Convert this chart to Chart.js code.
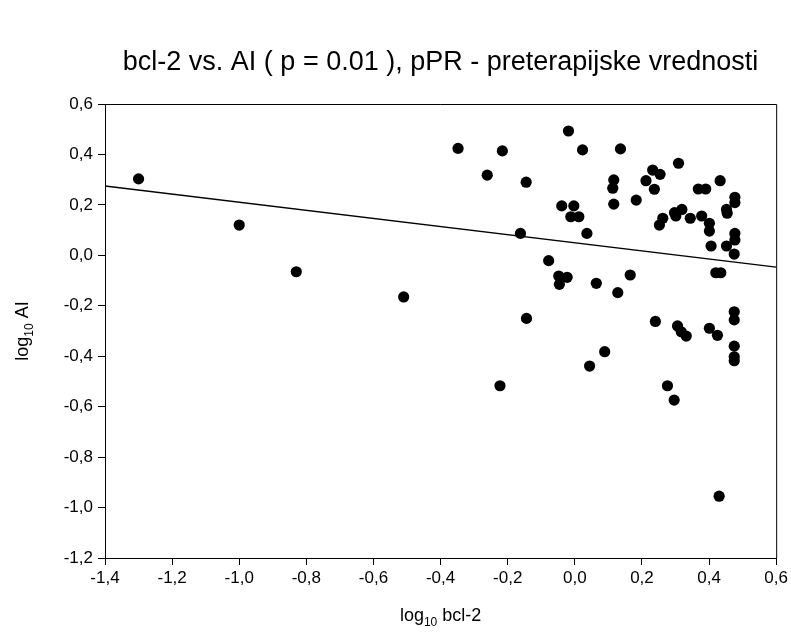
<!DOCTYPE html>
<html>
<head>
<meta charset="utf-8">
<script src="https://cdn.jsdelivr.net/npm/chart.js@4/dist/chart.umd.min.js"></script>
<style>
  html, body { margin: 0; padding: 0; background: #fff; }
  #wrap { width: 791px; height: 635px; }
</style>
</head>
<body>
<div id="wrap"><canvas id="scatter_chart" width="791" height="635"></canvas></div>
<script>
// log10 bcl-2 (x) and log10 AI (y)
const bcl2_vals = [
  -1.30, -1.00, -0.83, -0.51, -0.348, -0.216, -0.019, 0.023, 0.136, -0.261,
  -0.145, 0.116, 0.113, 0.116, -0.039, -0.003, -0.012, 0.012, -0.162, 0.036,
  -0.078, -0.048, -0.023, -0.046, 0.064, 0.128, -0.144, 0.089, 0.044, -0.223,
  0.183, 0.232, 0.254, 0.212, 0.237, 0.309, 0.252, 0.262, 0.297, 0.319,
  0.301, 0.344, 0.378, 0.368, 0.390, 0.433, 0.401, 0.401, 0.406, 0.452,
  0.454, 0.477, 0.477, 0.477, 0.477, 0.452, 0.475, 0.165, 0.420, 0.435,
  0.240, 0.306, 0.317, 0.332, 0.401, 0.425, 0.475, 0.475, 0.475, 0.475,
  0.475, 0.276, 0.296, 0.430
];
const ai_vals = [
  0.303, 0.120, -0.065, -0.165, 0.424, 0.414, 0.493, 0.418, 0.422, 0.318,
  0.290, 0.299, 0.266, 0.203, 0.196, 0.196, 0.153, 0.153, 0.087, 0.087,
  -0.021, -0.082, -0.087, -0.115, -0.111, -0.148, -0.250, -0.382, -0.439, -0.517,
  0.219, 0.338, 0.321, 0.296, 0.262, 0.365, 0.120, 0.147, 0.169, 0.182,
  0.156, 0.147, 0.156, 0.263, 0.263, 0.296, 0.127, 0.096, 0.037, 0.182,
  0.167, 0.230, 0.209, 0.087, 0.061, 0.037, 0.005, -0.078, -0.069, -0.069,
  -0.262, -0.280, -0.303, -0.320, -0.289, -0.317, -0.224, -0.256, -0.360, -0.402,
  -0.418, -0.517, -0.574, -0.955
];

// regression line end points
const fit_x = [-1.4, 0.6];
const fit_y = [0.275, -0.047];

const x_range = [-1.4, 0.6];
const y_range = [-1.2, 0.6];

const chart_title = "bcl-2 vs. AI ( p = 0.01 ), pPR - preterapijske vrednosti";

const FONT = "'Liberation Sans', Arial, sans-serif";

function comma_fmt(v) {
  let s = (Math.abs(v) < 1e-9 ? 0 : v).toFixed(1);
  return s.replace('.', ',');
}

// draws frame, title and axis titles (with subscripts)
const extras = {
  id: 'extras',
  afterDraw(chart) {
    const c = chart.ctx;
    const a = chart.chartArea;
    c.save();
    c.strokeStyle = '#000';
    c.lineWidth = 1;
    c.beginPath();
    c.moveTo(a.left, a.top + 0.5);
    c.lineTo(a.right + 0.5, a.top + 0.5);
    c.lineTo(a.right + 0.5, a.bottom);
    c.stroke();

    c.fillStyle = '#000';
    c.textBaseline = 'middle';
    c.textAlign = 'center';
    c.font = '27px ' + FONT;
    c.fillText(chart_title, (a.left + a.right) / 2, 63);

    function sub_label(parts, cx, cy) {
      let w = 0;
      parts.forEach(p => { c.font = p.size + 'px ' + FONT; w += c.measureText(p.t).width; });
      let x = cx - w / 2;
      c.textAlign = 'left';
      parts.forEach(p => {
        c.font = p.size + 'px ' + FONT;
        c.fillText(p.t, x, cy + p.dy);
        x += c.measureText(p.t).width;
      });
    }
    // x title: log10 bcl-2
    sub_label([{t: 'log', size: 18, dy: 0}, {t: '10', size: 12, dy: 7}, {t: ' bcl-2', size: 18, dy: 0}],
      (a.left + a.right) / 2, 616);

    c.save();
    c.translate(23, (a.top + a.bottom) / 2);
    c.rotate(-Math.PI / 2);
    sub_label([{t: 'log', size: 18, dy: 0}, {t: '10', size: 12, dy: 7}, {t: ' AI', size: 18, dy: 0}], 0, 0);
    c.restore();
    c.restore();
  }
};

const scatter_points = bcl2_vals.map((x, i) => ({x: x, y: ai_vals[i]}));
const fit_points = fit_x.map((x, i) => ({x: x, y: fit_y[i]}));

var ctx = document.getElementById('scatter_chart').getContext('2d');
var myScatter = new Chart(ctx, {
  type: 'scatter',
  data: {
    datasets: [{
      data: scatter_points,
      backgroundColor: '#000',
      borderColor: '#000',
      pointRadius: 5.6,
      pointHoverRadius: 5.6,
      borderWidth: 0
    }, {
      type: 'line',
      data: fit_points,
      borderColor: '#000',
      borderWidth: 1.3,
      pointRadius: 0,
      fill: false
    }]
  },
  options: {
    responsive: false,
    animation: false,
    layout: { padding: { left: 0, top: 104, right: 13, bottom: 0 } },
    plugins: { legend: { display: false }, tooltip: { enabled: false }, title: { display: false } },
    scales: {
      x: {
        type: 'linear',
        min: x_range[0],
        max: x_range[1],
        afterFit(s) { s.height = 77; },
        ticks: { stepSize: 0.2, color: '#000', font: { size: 17, family: FONT }, padding: 3,
          maxRotation: 0, callback: v => comma_fmt(v) },
        grid: { drawOnChartArea: false, drawTicks: true, tickLength: 7, color: '#000' },
        border: { display: true, color: '#000', width: 1 }
      },
      y: {
        type: 'linear',
        min: y_range[0],
        max: y_range[1],
        afterFit(s) { s.width = 105; },
        ticks: { stepSize: 0.2, color: '#000', font: { size: 17, family: FONT }, padding: 5,
          callback: v => comma_fmt(v) },
        grid: { drawOnChartArea: false, drawTicks: true, tickLength: 7, color: '#000' },
        border: { display: true, color: '#000', width: 1 }
      }
    }
  },
  plugins: [extras]
});
</script>
</body>
</html>
